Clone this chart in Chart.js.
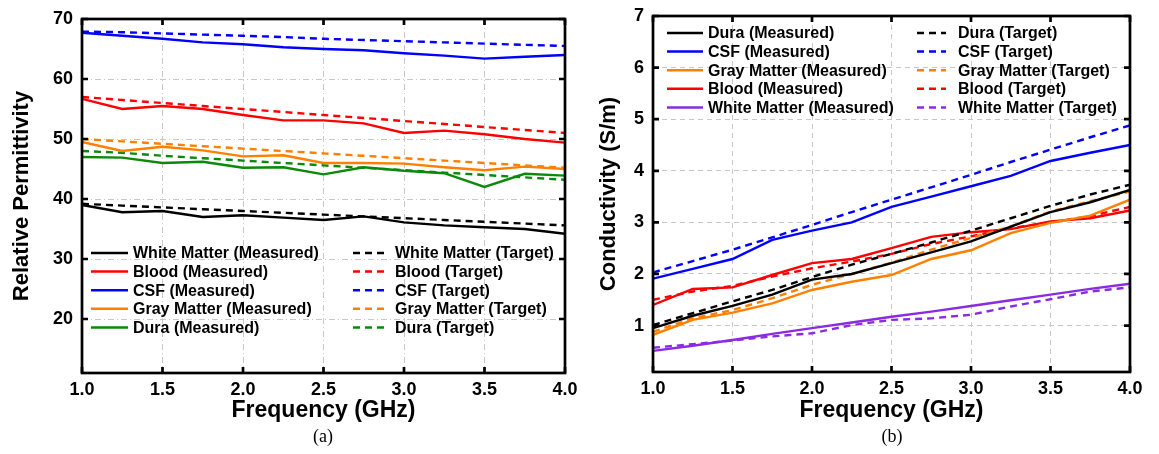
<!DOCTYPE html>
<html>
<head>
<meta charset="utf-8">
<script src="https://cdn.jsdelivr.net/npm/chart.js@4.4.1/dist/chart.umd.min.js"></script>
<style>
    body { margin: 0; background: #fff; width: 1159px; height: 454px; overflow: hidden; position: relative; }
    .panel { position: absolute; top: 0; height: 454px; }
    #panel-a { left: 0; width: 580px; }
    #panel-b { left: 580px; width: 579px; }
    .caption {
        position: absolute; top: 426px; line-height: 22px;
        font: 18px "Liberation Serif", "Times New Roman", serif; color: #000;
        transform: translateX(-50%);
    }
</style>
</head>
<body>
<div class="panel" id="panel-a"><canvas id="chart-a"></canvas></div>
<div class="panel" id="panel-b"><canvas id="chart-b"></canvas></div>
<div class="caption" style="left: 323px;">(a)</div>
<div class="caption" style="left: 892px;">(b)</div>

<script>
const freq = [1.0, 1.25, 1.5, 1.75, 2.0, 2.25, 2.5, 2.75, 3.0, 3.25, 3.5, 3.75, 4.0];
const xTicks = [1.0, 1.5, 2.0, 2.5, 3.0, 3.5, 4.0];

// (a) relative permittivity
const permTicks = [20, 30, 40, 50, 60, 70];
const permWhiteMeas   = [39.0, 37.8, 38.0, 37.0, 37.3, 36.9, 36.5, 37.1, 36.1, 35.6, 35.3, 35.0, 34.2];
const permWhiteTarget = [39.2, 38.9, 38.6, 38.3, 38.0, 37.7, 37.4, 37.1, 36.8, 36.5, 36.2, 35.9, 35.6];
const permBloodMeas   = [56.7, 55.0, 55.5, 55.0, 54.0, 53.1, 53.1, 52.6, 51.0, 51.4, 50.8, 50.0, 49.4];
const permBloodTarget = [57.0, 56.5, 56.0, 55.5, 55.0, 54.5, 54.0, 53.5, 53.0, 52.5, 52.0, 51.5, 51.0];
const permCsfMeas     = [67.7, 67.2, 66.7, 66.1, 65.8, 65.3, 65.0, 64.8, 64.3, 63.9, 63.4, 63.7, 64.0];
const permCsfTarget   = [67.9, 67.8, 67.6, 67.4, 67.2, 67.0, 66.7, 66.5, 66.3, 66.1, 65.9, 65.7, 65.5];
const permGrayMeas    = [49.5, 48.0, 48.7, 48.1, 47.1, 47.3, 46.0, 46.0, 45.9, 45.3, 44.8, 45.4, 45.0];
const permGrayTarget  = [50.0, 49.6, 49.2, 48.8, 48.4, 48.0, 47.6, 47.2, 46.8, 46.4, 46.0, 45.6, 45.2];
const permDuraMeas    = [47.0, 46.9, 46.0, 46.2, 45.2, 45.3, 44.1, 45.3, 44.7, 44.3, 42.0, 44.2, 43.9];
const permDuraTarget  = [48.0, 47.7, 47.2, 46.8, 46.4, 46.0, 45.6, 45.2, 44.8, 44.4, 44.0, 43.6, 43.2];

// (b) conductivity
const condTicks = [1, 2, 3, 4, 5, 6, 7];
const condDuraMeas    = [0.95, 1.19, 1.38, 1.60, 1.89, 2.00, 2.21, 2.42, 2.63, 2.92, 3.20, 3.39, 3.63];
const condDuraTarget  = [1.01, 1.24, 1.47, 1.69, 1.94, 2.18, 2.39, 2.61, 2.84, 3.08, 3.32, 3.54, 3.73];
const condCsfMeas     = [1.91, 2.10, 2.29, 2.66, 2.84, 3.00, 3.30, 3.50, 3.70, 3.90, 4.19, 4.35, 4.50];
const condCsfTarget   = [2.03, 2.25, 2.47, 2.71, 2.95, 3.20, 3.44, 3.68, 3.92, 4.17, 4.41, 4.65, 4.88];
const condGrayMeas    = [0.82, 1.11, 1.25, 1.43, 1.69, 1.85, 1.98, 2.29, 2.46, 2.79, 2.99, 3.13, 3.44];
const condGrayTarget  = [0.88, 1.14, 1.30, 1.53, 1.79, 2.00, 2.22, 2.47, 2.70, 2.92, 3.21, 3.41, 3.60];
const condBloodMeas   = [1.40, 1.71, 1.74, 1.98, 2.21, 2.29, 2.50, 2.72, 2.81, 2.87, 3.02, 3.08, 3.23];
const condBloodTarget = [1.50, 1.66, 1.77, 1.95, 2.11, 2.24, 2.39, 2.58, 2.73, 2.89, 3.00, 3.12, 3.30];
const condWhiteMeas   = [0.51, 0.61, 0.72, 0.84, 0.95, 1.06, 1.17, 1.27, 1.38, 1.49, 1.60, 1.71, 1.81];
const condWhiteTarget = [0.57, 0.64, 0.71, 0.79, 0.85, 1.01, 1.11, 1.14, 1.21, 1.37, 1.51, 1.66, 1.74];

const FONT = '"Liberation Sans", Arial, sans-serif';
const colors = {
    black: '#000000', red: '#ff0000', blue: '#0000ff',
    orange: '#ff8000', green: '#0a8a0a', purple: '#8a2be2'
};

function series(label, values, color, dashed) {
    return {
        label: label,
        data: values.map((v, i) => ({ x: freq[i], y: v })),
        borderColor: color,
        backgroundColor: color,
        borderWidth: 2.4,
        borderDash: dashed ? [7, 5] : [],
        pointRadius: 0,
        tension: 0,
        fill: false
    };
}

// box frame plus inward tick marks on all four sides
const framePlugin = {
    id: 'frame',
    afterDraw(chart) {
        const { ctx, chartArea: a } = chart;
        const x = chart.scales.x, y = chart.scales.y;
        const len = 6;
        ctx.save();
        ctx.strokeStyle = '#000';
        ctx.lineWidth = 2.7;
        ctx.strokeRect(a.left, a.top, a.right - a.left, a.bottom - a.top);
        ctx.beginPath();
        x.ticks.forEach(t => {
            const px = x.getPixelForValue(t.value);
            ctx.moveTo(px, a.bottom); ctx.lineTo(px, a.bottom - len);
            ctx.moveTo(px, a.top); ctx.lineTo(px, a.top + len);
        });
        y.ticks.forEach(t => {
            const py = y.getPixelForValue(t.value);
            ctx.moveTo(a.left, py); ctx.lineTo(a.left + len, py);
            ctx.moveTo(a.right, py); ctx.lineTo(a.right - len, py);
        });
        ctx.stroke();
        ctx.restore();
    }
};

// two-column legend: measured (solid) on the left, target (dashed) on the right
const pairLegendPlugin = {
    id: 'pairLegend',
    afterDraw(chart, args, opts) {
        const ctx = chart.ctx;
        const sets = chart.data.datasets;
        ctx.save();
        ctx.font = 'bold 16px ' + FONT;
        ctx.textBaseline = 'middle';
        ctx.fillStyle = '#000';
        ctx.lineWidth = 2.5;
        opts.order.forEach((name, i) => {
            const yy = opts.y0 + i * opts.dy;
            const meas = sets.find(d => d.label === name + ' (Measured)');
            const targ = sets.find(d => d.label === name + ' (Target)');
            [[meas, opts.left], [targ, opts.right]].forEach(([ds, col]) => {
                ctx.strokeStyle = ds.borderColor;
                ctx.setLineDash(ds.borderDash);
                ctx.beginPath();
                ctx.moveTo(col.x1, yy);
                ctx.lineTo(col.x2, yy);
                ctx.stroke();
                ctx.setLineDash([]);
                ctx.fillText(ds.label, col.tx, yy + 1);
            });
        });
        ctx.restore();
    }
};

function makeOptions(cfg) {
    const tickFont = { family: FONT, size: 18, weight: 'bold' };
    const titleFont = { family: FONT, size: 23, weight: 'bold' };
    return {
        responsive: true,
        maintainAspectRatio: false,
        animation: false,
        devicePixelRatio: 1,
        layout: { padding: { top: cfg.padTop, right: cfg.padRight, left: 0, bottom: 0 } },
        plugins: {
            legend: { display: false },
            tooltip: { enabled: false },
            pairLegend: cfg.legend
        },
        scales: {
            x: {
                type: 'linear',
                min: 1, max: 4,
                afterBuildTicks: s => { s.ticks = xTicks.map(v => ({ value: v })); },
                afterFit: s => {
                    s.height = cfg.xHeight;
                    s.paddingLeft = 0;
                    s.paddingRight = 0;
                },
                ticks: {
                    callback: v => v.toFixed(1),
                    font: tickFont, color: '#000', padding: 6,
                    maxRotation: 0, autoSkip: false
                },
                grid: { color: '#c8c8c8', lineWidth: 1, drawTicks: false },
                border: { display: false, dash: cfg.gridDash },
                title: {
                    display: true, text: 'Frequency (GHz)', color: '#000',
                    font: titleFont, padding: { top: 0, bottom: 30 }
                }
            },
            y: {
                type: 'linear',
                min: cfg.yMin, max: cfg.yMax,
                afterBuildTicks: s => { s.ticks = cfg.yTicks.map(v => ({ value: v })); },
                afterFit: s => {
                    s.width = cfg.yWidth;
                    s.paddingTop = 0;
                    s.paddingBottom = 0;
                },
                ticks: { font: tickFont, color: '#000', padding: 9, autoSkip: false },
                grid: { color: '#c8c8c8', lineWidth: 1, drawTicks: false },
                border: { display: false, dash: cfg.gridDash },
                title: {
                    display: true, text: cfg.yTitle, color: '#000',
                    font: { family: FONT, size: 22, weight: 'bold' },
                    padding: { top: cfg.yTitlePad, bottom: 0 }
                }
            }
        }
    };
}

new Chart(document.getElementById('chart-a'), {
    type: 'line',
    data: {
        datasets: [
            series('White Matter (Measured)', permWhiteMeas, colors.black, false),
            series('White Matter (Target)', permWhiteTarget, colors.black, true),
            series('Blood (Measured)', permBloodMeas, colors.red, false),
            series('Blood (Target)', permBloodTarget, colors.red, true),
            series('CSF (Measured)', permCsfMeas, colors.blue, false),
            series('CSF (Target)', permCsfTarget, colors.blue, true),
            series('Gray Matter (Measured)', permGrayMeas, colors.orange, false),
            series('Gray Matter (Target)', permGrayTarget, colors.orange, true),
            series('Dura (Measured)', permDuraMeas, colors.green, false),
            series('Dura (Target)', permDuraTarget, colors.green, true)
        ]
    },
    options: makeOptions({
        padTop: 19, padRight: 15, xHeight: 81, yWidth: 82,
        yMin: 11, yMax: 70, yTicks: permTicks,
        yTitle: 'Relative Permittivity', yTitlePad: 9,
        gridDash: [6, 3, 1, 3],
        legend: {
            order: ['White Matter', 'Blood', 'CSF', 'Gray Matter', 'Dura'],
            y0: 253, dy: 18.6,
            left: { x1: 91, x2: 128, tx: 133 },
            right: { x1: 353, x2: 384, tx: 395 }
        }
    }),
    plugins: [framePlugin, pairLegendPlugin]
});

new Chart(document.getElementById('chart-b'), {
    type: 'line',
    data: {
        datasets: [
            series('Dura (Measured)', condDuraMeas, colors.black, false),
            series('Dura (Target)', condDuraTarget, colors.black, true),
            series('CSF (Measured)', condCsfMeas, colors.blue, false),
            series('CSF (Target)', condCsfTarget, colors.blue, true),
            series('Gray Matter (Measured)', condGrayMeas, colors.orange, false),
            series('Gray Matter (Target)', condGrayTarget, colors.orange, true),
            series('Blood (Measured)', condBloodMeas, colors.red, false),
            series('Blood (Target)', condBloodTarget, colors.red, true),
            series('White Matter (Measured)', condWhiteMeas, colors.purple, false),
            series('White Matter (Target)', condWhiteTarget, colors.purple, true)
        ]
    },
    options: makeOptions({
        padTop: 16, padRight: 29, xHeight: 82, yWidth: 73,
        yMin: 0.1, yMax: 7, yTicks: condTicks,
        yTitle: 'Conductivity (S/m)', yTitlePad: 16,
        gridDash: [5, 4],
        legend: {
            order: ['Dura', 'CSF', 'Gray Matter', 'Blood', 'White Matter'],
            y0: 33, dy: 18.6,
            left: { x1: 87, x2: 123, tx: 128 },
            right: { x1: 337, x2: 366, tx: 378 }
        }
    }),
    plugins: [framePlugin, pairLegendPlugin]
});
</script>
</body>
</html>
